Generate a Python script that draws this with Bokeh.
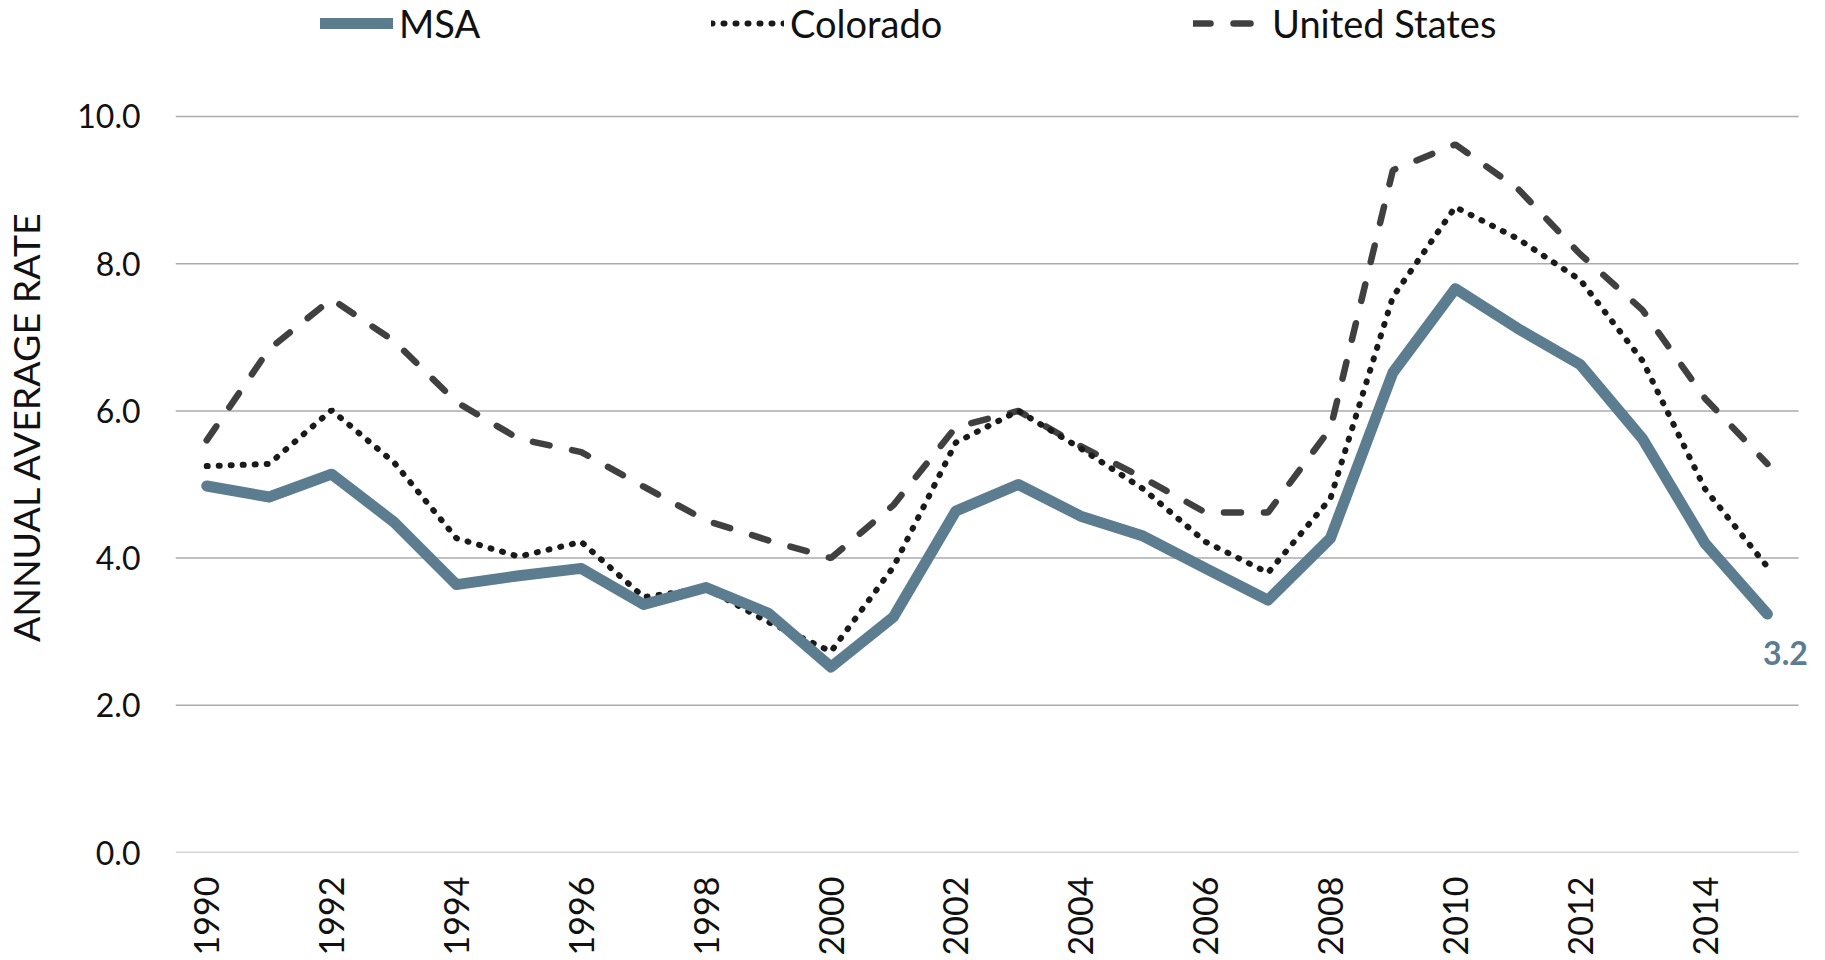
import math
from bokeh.plotting import figure
from bokeh.models import (Legend, LegendItem, Label, FixedTicker, Range1d,
                          NumeralTickFormatter)
from bokeh.embed import file_html
from bokeh.resources import INLINE

# ---------------- data ----------------
YEARS = list(range(1990, 2016))
MSA = [4.98, 4.83, 5.14, 4.49, 3.64, 3.76, 3.86, 3.37, 3.60, 3.25, 2.52, 3.20, 4.64,
       5.00, 4.57, 4.30, 3.86, 3.43, 4.27, 6.52, 7.66, 7.12, 6.63, 5.62, 4.20, 3.24]
COLORADO = [5.25, 5.28, 6.01, 5.30, 4.27, 4.02, 4.22, 3.47, 3.59, 3.13, 2.73, 3.88, 5.57,
            6.00, 5.49, 4.94, 4.22, 3.80, 4.81, 7.55, 8.77, 8.34, 7.78, 6.68, 4.94, 3.88]
US = [5.60, 6.84, 7.52, 6.95, 6.12, 5.62, 5.44, 4.97, 4.51, 4.24, 4.00, 4.72, 5.78,
      6.00, 5.52, 5.09, 4.62, 4.62, 5.76, 9.27, 9.62, 9.02, 8.13, 7.37, 6.17, 5.28]
SERIES_NAMES = ["MSA", "Colorado", "United States"]
Y_TICKS = [0, 2, 4, 6, 8, 10]
X_TICKS = list(range(1990, 2015, 2))
Y_TITLE = "ANNUAL AVERAGE RATE"

MSA_COLOR = "#5B7D8F"
TEXT_COLOR = "#111111"
FONT = "Lato"

X_START = YEARS[0] - 0.5
X_END = YEARS[-1] + 0.5

p = figure(width=1825, height=960, output_backend="svg", toolbar_location=None,
           title=None,
           x_range=Range1d(X_START, 2015.93), y_range=Range1d(0, 11.576),
           min_border_left=172, min_border_right=0, min_border_top=0,
           min_border_bottom=108)
p.outline_line_color = None
p.background_fill_color = "white"
p.border_fill_color = "white"

# horizontal gridlines across the category range
p.xgrid.grid_line_color = None
p.ygrid.grid_line_color = None
p.segment(x0=[X_START] * len(Y_TICKS), x1=[X_END] * len(Y_TICKS), y0=Y_TICKS,
          y1=Y_TICKS, line_color="#ABABAB", line_width=1.5)

r_us = p.line(YEARS, US, line_color="#404040", line_width=6.5, line_cap="round",
              line_dash="17 23")
r_co = p.line(YEARS, COLORADO, line_color="#1A1A1A", line_width=6, line_cap="round",
              line_dash="1 11")
r_msa = p.line(YEARS, MSA, line_color=MSA_COLOR, line_width=11, line_cap="round",
               line_join="round")

# y axis
ya = p.yaxis[0]
ya.ticker = FixedTicker(ticks=Y_TICKS)
ya.formatter = NumeralTickFormatter(format="0.0")
ya.axis_line_color = None
ya.major_tick_line_color = None
ya.minor_tick_line_color = None
ya.major_tick_out = 0
ya.major_tick_in = 0
ya.major_label_standoff = 35
ya.major_label_text_font = FONT
ya.major_label_text_font_size = "32px"
ya.major_label_text_color = TEXT_COLOR
ya.axis_label = Y_TITLE
ya.axis_label_standoff = 26
ya.axis_label_text_font = FONT
ya.axis_label_text_font_size = "37.5px"
ya.axis_label_text_font_style = "normal"
ya.axis_label_text_color = TEXT_COLOR

# x axis
xa = p.xaxis[0]
xa.ticker = FixedTicker(ticks=X_TICKS)
xa.axis_line_color = None
xa.major_tick_line_color = None
xa.minor_tick_line_color = None
xa.major_tick_out = 0
xa.major_tick_in = 0
xa.major_label_standoff = 24
xa.major_label_orientation = math.pi / 2
xa.major_label_text_font = FONT
xa.major_label_text_font_size = "34px"
xa.major_label_text_color = TEXT_COLOR

# end label
p.add_layout(Label(x=YEARS[-1], y=MSA[-1], x_offset=18, y_offset=-39,
                   text=f"{MSA[-1]:.1f}", text_align="center", text_baseline="middle",
                   text_font=FONT, text_font_size="32px", text_font_style="bold",
                   text_color=MSA_COLOR))

# legends (one per item for exact placement)
for name, rend, xloc in zip(SERIES_NAMES, [r_msa, r_co, r_us], [145, 536, 1018]):
    leg = Legend(items=[LegendItem(label=name, renderers=[rend])],
                 location=(xloc, 806), orientation="horizontal",
                 border_line_color=None, background_fill_alpha=0,
                 padding=0, margin=0, spacing=0,
                 glyph_width=73, glyph_height=40, label_height=40,
                 label_standoff=6, label_text_font=FONT,
                 label_text_font_size="38px", label_text_color=TEXT_COLOR)
    p.add_layout(leg)

open("out.html", "w").write(file_html(p, INLINE))
